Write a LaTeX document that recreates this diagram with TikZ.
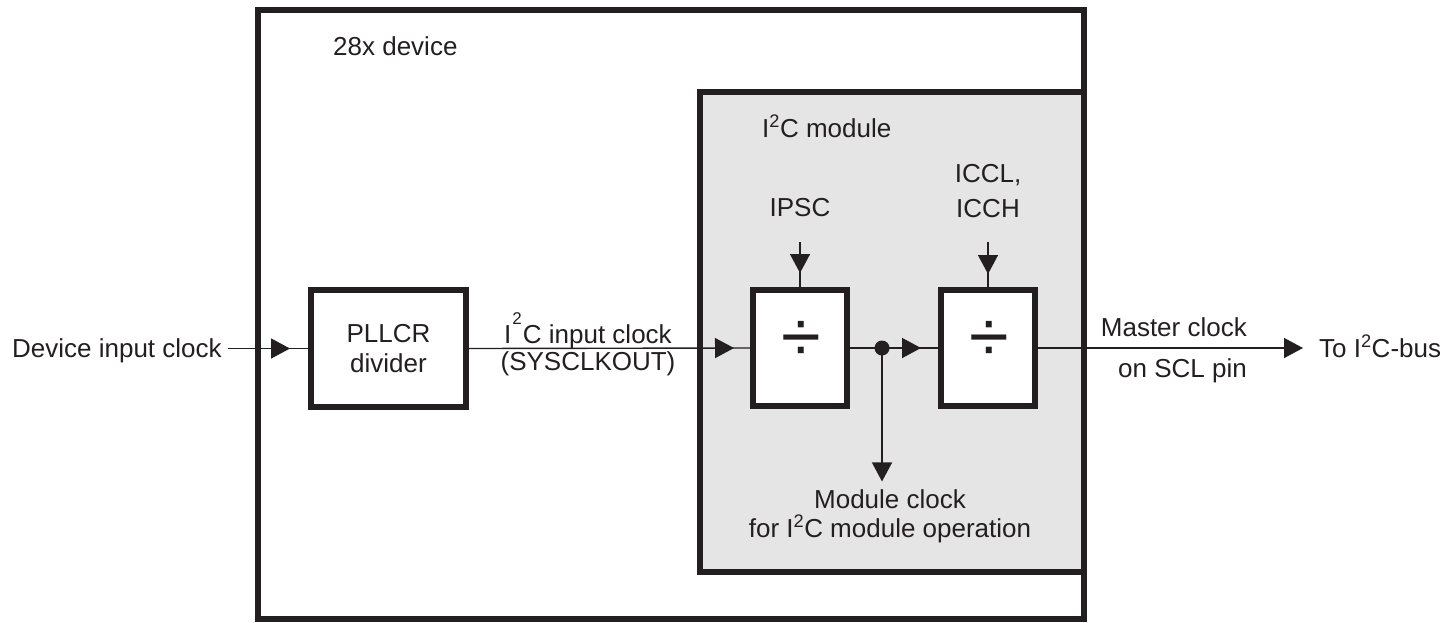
\documentclass[tikz,border=0pt]{standalone}
\usepackage{fontspec}
\setmainfont{Liberation Sans}
\usetikzlibrary{arrows.meta,decorations.markings}
\definecolor{ink}{HTML}{231F20}
\definecolor{modgray}{HTML}{E5E5E5}
\tikzset{
  lbl/.style={font=\fontsize{26}{30}\selectfont, text=ink, inner sep=0pt, align=center},
  frame/.style={draw=ink, line width=6pt},
  blk/.style={draw=ink, line width=6pt, fill=white, inner sep=0pt,
    font=\fontsize{26}{30}\selectfont, text=ink, align=center},
  divsym/.style={font=\fontsize{72}{72}\selectfont, text=ink, inner sep=0pt},
  wire/.style={color=ink, line width=1.4pt},
  midarrow/.style={postaction={decorate}, decoration={markings,
    mark=at position #1 with {\arrow{Triangle[length=19pt,width=20pt]}}}},
  endarrow/.style={-{Triangle[length=19pt,width=20pt]}},
}
\begin{document}
\begin{tikzpicture}[x=1pt,y=-1pt]
\useasboundingbox (0,0) rectangle (1455,622);
% frames
\draw[frame] (258,9.5) rectangle (1084,619);
\draw[frame, fill=modgray] (700,92) rectangle (1084,572);
% labels
\node[lbl, anchor=base west] (dev) at (12,357) {Device input clock};
\node[lbl, anchor=base west] (devname) at (333,55) {28x device};
\node[lbl, anchor=base west] (modname) at (762,137) {I\textsuperscript{2}C module};
\node[lbl, anchor=base] (ipsc) at (800,216) {IPSC};
\node[lbl, anchor=base] (iccl) at (988,217) {ICCL,\\[4.5pt]ICCH};
\node[lbl, anchor=base] (inclk) at (588,370) {I\kern1pt\raisebox{0.72em}{\fontsize{17}{17}\selectfont 2}\kern1ptC input clock\\[-3pt](SYSCLKOUT)};
\node[lbl, anchor=base east, align=right] (master) at (1247,377) {Master clock\\[11pt]on SCL pin};
\node[lbl, anchor=base west] (bus) at (1319,357) {To I\textsuperscript{2}C-bus};
\node[lbl, anchor=base] (modclk) at (890,537) {Module clock\\[-1.5pt]for I\textsuperscript{2}C module operation};
% blocks
\node[blk, minimum width=155pt, minimum height=117pt] (pll) at (388.5,348.5) {PLLCR\\divider};
\node[blk, minimum width=94pt, minimum height=116pt] (d1) at (800,348) {};
\node[blk, minimum width=94pt, minimum height=116pt] (d2) at (988,348) {};
\node[divsym] (s1) at (801,341) {÷};
\node[divsym] (s2) at (989,341) {÷};
\node[circle, fill=ink, minimum size=15pt, inner sep=0pt] (tap) at (882,348) {};
% connectors
\draw[wire, midarrow=-18pt, shorten <=6pt] (dev.east |- pll.west) -- (pll.west);
\draw[wire, midarrow=-16pt] (pll.east) -- (d1.west);
\draw[wire, midarrow=-17pt] (d1.east) -- (tap.center) -- (d2.west);
\draw[wire, endarrow, shorten >=16pt] (d2.east) -- (bus.west |- d2.east);
\draw[wire, endarrow, shorten >=8pt] (tap.center) -- (tap.center |- modclk.north);
\draw[wire, midarrow=-14pt, shorten <=26pt] (ipsc.south) -- (d1.north);
\draw[wire, midarrow=-13pt, shorten <=25pt] (iccl.south) -- (d2.north);
\end{tikzpicture}
\end{document}
